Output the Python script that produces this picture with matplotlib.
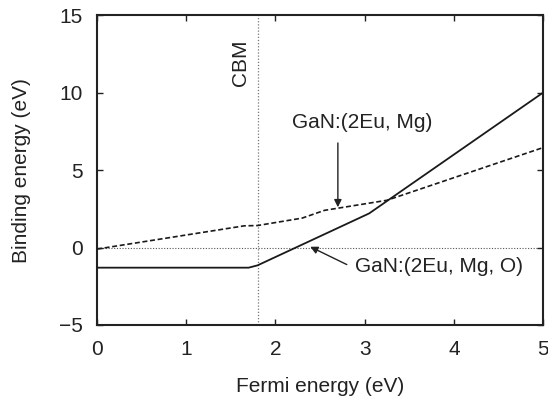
import matplotlib
matplotlib.use("Agg")
import matplotlib.pyplot as plt

plt.rcParams['font.family'] = ['Liberation Sans', 'DejaVu Sans']

# Formation/binding energy vs Fermi level (piecewise-linear segments)
fermi_mg_o = [0.0, 1.70, 1.80, 3.05, 5.0]
binding_mg_o = [-1.3, -1.3, -1.15, 2.2, 10.0]

fermi_mg = [0.0, 1.65, 1.80, 2.30, 2.55, 3.25, 5.0]
binding_mg = [-0.1, 1.40, 1.42, 1.90, 2.40, 3.05, 6.45]

cbm = 1.8
x_ticks = [0, 1, 2, 3, 4, 5]
y_ticks = [-5, 0, 5, 10, 15]

FS = 15
INK = '#222222'

fig = plt.figure(figsize=(5.48, 3.99), dpi=100)
ax = fig.add_axes([0.177, 0.1855, 0.814, 0.7765])

ax.axhline(0, color='#555555', lw=0.8, ls=(0, (1, 1.5)), zorder=1)
ax.axvline(cbm, color='#777777', lw=0.9, ls=(0, (1, 1.5)), zorder=1)

ax.plot(fermi_mg_o, binding_mg_o, color='#1a1a1a', lw=1.3, zorder=3)
ax.plot(fermi_mg, binding_mg, color='#1a1a1a', lw=1.2, ls=(0, (3, 1.6)), zorder=3)

ax.set_xlim(0, 5)
ax.set_ylim(-5, 15)
ax.set_xticks(x_ticks)
ax.set_yticks(y_ticks)
ax.tick_params(direction='in', top=True, right=True, length=4, width=1.0,
               labelsize=FS, color=INK, labelcolor=INK)
ax.tick_params(axis='x', pad=11)
ax.tick_params(axis='y', pad=10)
for s in ax.spines.values():
    s.set_linewidth(1.5)
    s.set_color(INK)

ax.set_xlabel('Fermi energy (eV)', fontsize=FS, color=INK, labelpad=13)
ax.set_ylabel('Binding energy (eV)', fontsize=FS, color=INK, labelpad=20)

ax.text(1.61, 13.4, 'CBM', rotation=90, ha='center', va='top', fontsize=FS, color=INK)

ax.text(2.19, 8.05, 'GaN:(2Eu, Mg)', fontsize=FS, color=INK, ha='left', va='center')
ax.annotate('', xy=(2.7, 2.6), xytext=(2.7, 6.75),
            arrowprops=dict(arrowstyle='-|>', color=INK, lw=1.0,
                            mutation_scale=11, shrinkA=0, shrinkB=0))

ax.text(2.89, -1.23, 'GaN:(2Eu, Mg, O)', fontsize=FS, color=INK,
        ha='left', va='center')
ax.annotate('', xy=(2.39, 0.05), xytext=(2.80, -1.1),
            arrowprops=dict(arrowstyle='-|>', color=INK, lw=1.0,
                            mutation_scale=11, shrinkA=0, shrinkB=0))

fig.savefig('out.png', dpi=100)
